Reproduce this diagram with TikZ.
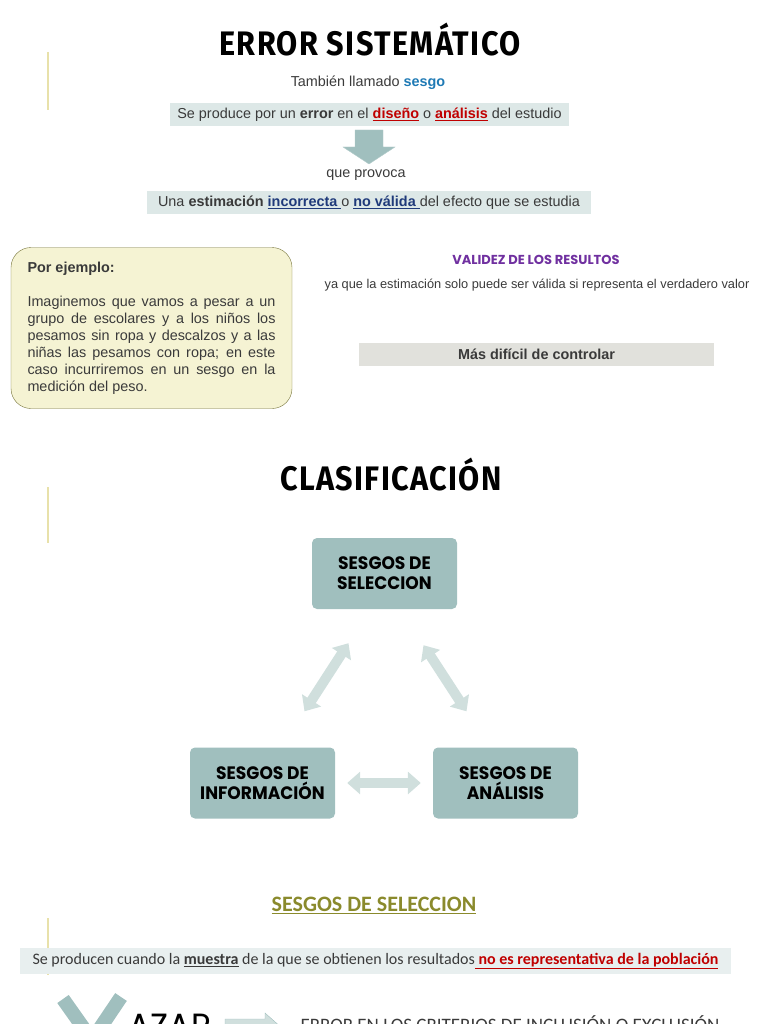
\documentclass[tikz,border=0pt]{standalone}
\usepackage{fontspec}
\setmainfont{Liberation Sans}
\newfontfamily\titlefont[FakeStretch=0.9,LetterSpace=4]{Fira Sans}
\newfontfamily\boxfont[FakeStretch=0.95]{Poppins}
\newfontfamily\validfont{Poppins}
\newfontfamily\califont{Carlito}
\usetikzlibrary{arrows.meta,calc,positioning}
\definecolor{bodygray}{HTML}{3A3A3A}
\definecolor{bandteal}{HTML}{DDE8E7}
\definecolor{bandgray}{HTML}{E1E1DC}
\definecolor{bandlight}{HTML}{E8EFEF}
\definecolor{boxteal}{HTML}{A0BFBE}
\definecolor{arrowteal}{HTML}{D0DFDD}
\definecolor{sesgoblue}{HTML}{1F7AB5}
\definecolor{darkred}{HTML}{C00000}
\definecolor{navyblue}{HTML}{1F3A7A}
\definecolor{notefill}{HTML}{F5F3D3}
\definecolor{noteline}{HTML}{76743A}
\definecolor{vpurple}{HTML}{7030A0}
\definecolor{oliveline}{HTML}{8A8A2C}
\definecolor{barline}{HTML}{E8E1AA}
\newcommand{\redu}[1]{\textcolor{darkred}{\textbf{\underline{#1}}}}
\newcommand{\blueu}[1]{\textcolor{navyblue}{\textbf{\underline{#1}}}}
\tikzstyle{every node}=[font=\fontsize{14.4}{17}\selectfont,text=bodygray]
\tikzstyle{title}=[font=\titlefont\bfseries\fontsize{34}{36}\selectfont,text=black]
\tikzstyle{band}=[fill=bandteal,inner sep=0pt]
\tikzstyle{sesgo}=[fill=boxteal,rounded corners=5pt,minimum width=145pt,
  minimum height=71pt,align=center,text=black,
  font=\boxfont\bfseries\fontsize{18}{20}\selectfont]
\tikzstyle{dblarrow}=[draw=arrowteal,line width=10pt,
  {Triangle[width=22pt,length=13pt]}-{Triangle[width=22pt,length=13pt]}]
\tikzstyle{leftbar}=[draw=barline,line width=1.2pt]

\begin{document}
\begin{tikzpicture}[x=1pt,y=-1pt]
  \useasboundingbox (0,0) rectangle (768,1024);
  \foreach \ya/\yb in {52/110,487/543,918/975}
    \draw[leftbar] (48,\ya)--(48,\yb);
  % error sistematico
  \node[title] (errsis) at (370,40) {ERROR SISTEMÁTICO};
  \node (tambien) at (368,83) {También llamado \textcolor{sesgoblue}{\textbf{sesgo}}};
  \node[band,minimum width=399pt,minimum height=23pt] (causa) at (369.5,114.5)
       {Se produce por un \textbf{error} en el \redu{diseño} o \redu{análisis} del estudio};
  \draw[fill=boxteal,draw=boxteal!80!white] (355,130)--(383,130)--(383,147)--(395,147)
       --(369,164)--(343,147)--(355,147)--cycle;
  \node (provoca) at (366,175) {que provoca};
  \node[band,minimum width=444pt,minimum height=23pt] (efecto) at (369,202.5)
       {Una \textbf{estimación} \blueu{incorrecta\ }o \blueu{no válida\ }del efecto que se estudia};
  \node[draw=noteline,fill=notefill,rounded corners=20pt,text width=248pt,
       inner xsep=16.5pt,minimum height=161pt,align=justify] (ejemplo) at (151.5,328)
       {\leftskip=3.5pt\rightskip=-3.5pt
        \textbf{Por ejemplo:}\\[17pt]
        Imaginemos que vamos a pesar a un\linebreak
        grupo de escolares y a los niños los\linebreak
        pesamos sin ropa y descalzos y a las\linebreak
        niñas las pesamos con ropa; en este\linebreak
        caso incurriremos en un sesgo en la\linebreak
        medición del peso.};
  \node[font=\validfont\bfseries\fontsize{13}{14}\selectfont,text=vpurple] (validez)
       at (536,260) {VALIDEZ DE LOS RESULTOS};
  \node[font=\fontsize{12.8}{14}\selectfont] (verdadero) at (537,285)
       {ya que la estimación solo puede ser válida si representa el verdadero valor};
  \node[band,fill=bandgray,minimum width=355pt,minimum height=23pt] (control)
       at (536.5,354.5) {\textbf{Más difícil de controlar}};
  % clasificacion
  \node[title] (clasif) at (391,475) {CLASIFICACIÓN};
  \node[sesgo] (sel) at (384.5,573.5) {SESGOS DE\\SELECCION};
  \node[sesgo] (inf) at (262.5,783) {SESGOS DE\\INFORMACIÓN};
  \node[sesgo] (ana) at (505.5,783) {SESGOS DE\\ANÁLISIS};
  \draw[dblarrow] ([shift={(42,-36)}]inf.north)--([shift={(-36,34)}]sel.south);
  \draw[dblarrow] ([shift={(39,36)}]sel.south)--([shift={(-39,-36)}]ana.north);
  \draw[dblarrow] ([xshift=12pt]inf.east)--([xshift=-12pt]ana.west);
  % sesgos de seleccion
  \node[font=\califont\bfseries\fontsize{22}{24}\selectfont,text=oliveline] (subsel)
       at (374,905) {\underline{SESGOS DE SELECCION}};
  \node[band,fill=bandlight,minimum width=711pt,minimum height=26pt,
       font=\califont\fontsize{16}{18}\selectfont] (muestra) at (375.5,961)
       {Se producen cuando la \textbf{\underline{muestra}} de la que se obtienen los
        resultados\textcolor{darkred}{\textbf{\underline{\ no es representativa de la población}}}};
  \draw[draw=boxteal,line width=14pt] (63,999)--(92,1040)--(121,997);
  \node[anchor=north west,font=\boxfont\fontsize{35}{37}\selectfont,text=black] (azar)
       at (125,1011) {AZAR};
  \draw[fill=arrowteal,draw=boxteal] (225,1019)--(265,1019)--(265,1013)--(282,1028)
       --(265,1043)--(265,1037)--(225,1037)--cycle;
  \node[anchor=north west,font=\califont\fontsize{19}{21}\selectfont,text=bodygray] (criterio)
       at (297,1012) {ERROR EN LOS CRITERIOS DE INCLUSIÓN O EXCLUSIÓN};
\end{tikzpicture}
\end{document}
